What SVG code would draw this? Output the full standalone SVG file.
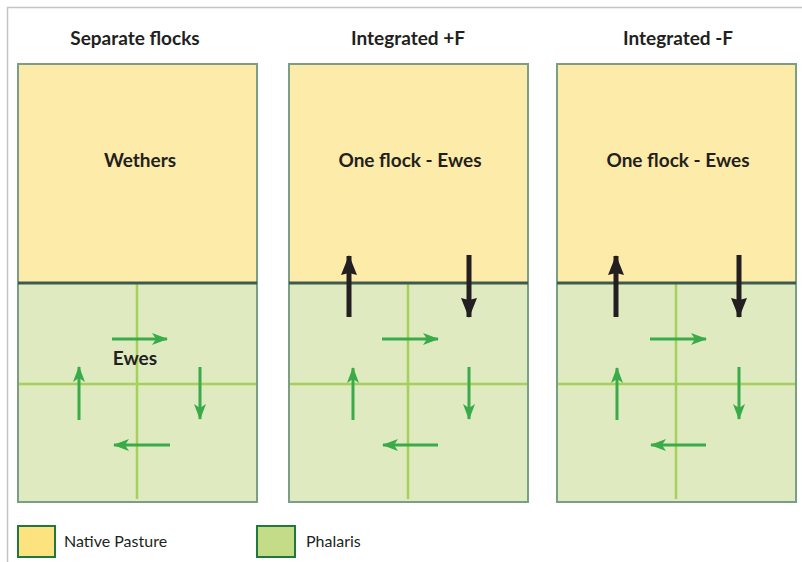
<svg xmlns="http://www.w3.org/2000/svg" width="802" height="562" viewBox="0 0 802 562">
  <style>
    .title { font-family: Lato, "Liberation Sans", sans-serif; font-weight: bold; font-size: 19px; fill: #231f20; text-anchor: middle; }
    .label { font-family: Lato, "Liberation Sans", sans-serif; font-weight: bold; font-size: 19px; fill: #231f20; text-anchor: middle; }
    .legend { font-family: Lato, "Liberation Sans", sans-serif; font-size: 16px; fill: #231f20; }
    .native { fill: #fdeba9; }
    .phalaris { fill: #dfeac1; }
    .frame { fill: none; stroke: #7a9f84; stroke-width: 2; }
    .divider { stroke: #3f5a4c; stroke-width: 3; }
    .grid { stroke: #a5d05c; stroke-width: 2.5; }
    .move { stroke: #3aab49; stroke-width: 3; fill: none; marker-end: url(#greenHead); }
    .swap { stroke: #231f20; stroke-width: 5; fill: none; marker-end: url(#blackHead); }
    .key { stroke: #1e7a3c; stroke-width: 2; }
  </style>
  <defs>
    <marker id="greenHead" markerUnits="userSpaceOnUse" viewBox="0 0 16 12" refX="15" refY="6" markerWidth="16" markerHeight="12" orient="auto">
      <path d="M0,0 L16,6 L0,12 L4,6 Z" fill="#3aab49"/>
    </marker>
    <marker id="blackHead" markerUnits="userSpaceOnUse" viewBox="0 0 20 16" refX="19" refY="8" markerWidth="20" markerHeight="16" orient="auto">
      <path d="M0,0 L20,8 L0,16 L2,8 Z" fill="#231f20"/>
    </marker>
  </defs>

  <rect width="802" height="562" fill="#ffffff"/>
  <path d="M7.5,562 V7.5 H802" fill="none" stroke="#c4c4c4" stroke-width="1.5"/>

  <!-- Separate flocks -->
  <g id="separate">
    <text class="title" x="135" y="45">Separate flocks</text>
    <rect class="native" x="18" y="64" width="239" height="219"/>
    <rect class="phalaris" x="18" y="283" width="239" height="219"/>
    <line class="grid" x1="137" y1="284" x2="137" y2="499"/>
    <line class="grid" x1="18" y1="384" x2="257" y2="384"/>
    <rect class="frame" x="18" y="64" width="239" height="438"/>
    <line class="divider" x1="18" y1="283" x2="257" y2="283"/>
    <text class="label" x="140" y="167">Wethers</text>
    <text class="label" x="135" y="365">Ewes</text>
  </g>

  <!-- Integrated +F -->
  <g id="integrated-plus">
    <text class="title" x="408" y="45">Integrated +F</text>
    <rect class="native" x="289" y="64" width="239" height="219"/>
    <rect class="phalaris" x="289" y="283" width="239" height="219"/>
    <line class="grid" x1="408" y1="284" x2="408" y2="499"/>
    <line class="grid" x1="289" y1="384" x2="528" y2="384"/>
    <rect class="frame" x="289" y="64" width="239" height="438"/>
    <line class="divider" x1="289" y1="283" x2="528" y2="283"/>
    <text class="label" x="410" y="167">One flock - Ewes</text>
  </g>

  <!-- Integrated -F -->
  <g id="integrated-minus">
    <text class="title" x="678" y="45">Integrated -F</text>
    <rect class="native" x="557" y="64" width="239" height="219"/>
    <rect class="phalaris" x="557" y="283" width="239" height="219"/>
    <line class="grid" x1="676" y1="284" x2="676" y2="499"/>
    <line class="grid" x1="557" y1="384" x2="796" y2="384"/>
    <rect class="frame" x="557" y="64" width="239" height="438"/>
    <line class="divider" x1="557" y1="283" x2="796" y2="283"/>
    <text class="label" x="678" y="167">One flock - Ewes</text>
  </g>

  <!-- Rotation and pasture-swap arrows -->
  <g id="connectors">
    <line class="move" x1="112" y1="339" x2="167" y2="339"/>
    <line class="move" x1="200" y1="367" x2="200" y2="419"/>
    <line class="move" x1="170" y1="445" x2="114" y2="445"/>
    <line class="move" x1="79" y1="420" x2="79" y2="367"/>

    <line class="swap" x1="349" y1="317" x2="349" y2="256"/>
    <line class="swap" x1="469" y1="255" x2="469" y2="317"/>
    <line class="move" x1="382" y1="339" x2="438" y2="339"/>
    <line class="move" x1="469" y1="367" x2="469" y2="419"/>
    <line class="move" x1="438" y1="445" x2="383" y2="445"/>
    <line class="move" x1="353" y1="420" x2="353" y2="368"/>

    <line class="swap" x1="616" y1="317" x2="616" y2="256"/>
    <line class="swap" x1="739" y1="255" x2="739" y2="317"/>
    <line class="move" x1="650" y1="339" x2="706" y2="339"/>
    <line class="move" x1="739" y1="367" x2="739" y2="419"/>
    <line class="move" x1="706" y1="445" x2="651" y2="445"/>
    <line class="move" x1="617" y1="420" x2="617" y2="368"/>
  </g>

  <!-- Legend -->
  <g id="legend-native">
    <rect class="key" x="18" y="526" width="37" height="31" fill="#fce380"/>
    <text class="legend" x="64" y="547">Native Pasture</text>
  </g>
  <g id="legend-phalaris">
    <rect class="key" x="257" y="526" width="38" height="31" fill="#c4dc88"/>
    <text class="legend" x="306" y="547">Phalaris</text>
  </g>
</svg>
